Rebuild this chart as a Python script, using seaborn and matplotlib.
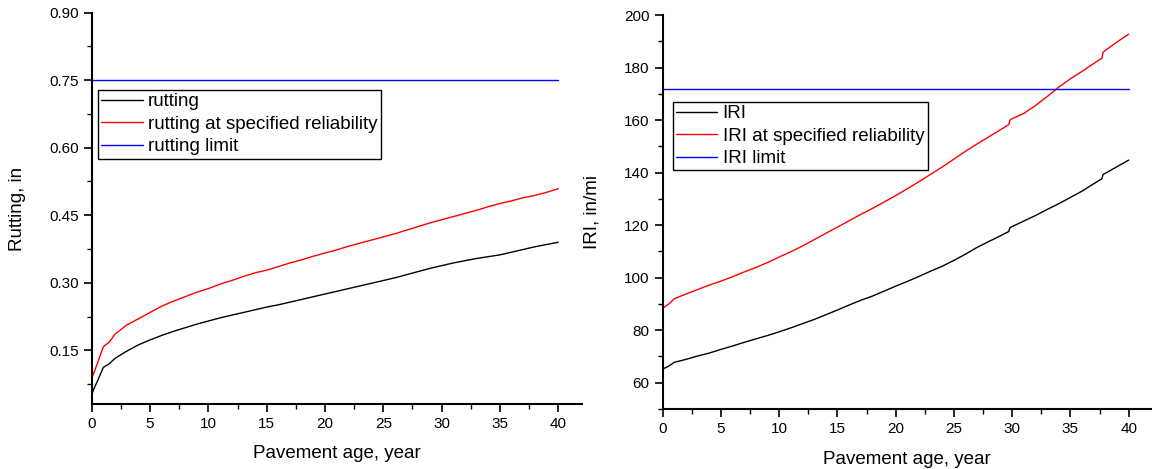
import matplotlib
matplotlib.use("Agg")
import matplotlib.pyplot as plt
from matplotlib.ticker import MultipleLocator, FormatStrFormatter
import seaborn as sns
import pandas as pd

# Rutting prediction (in) versus pavement age (years)
rut_years = [0, 0.25, 0.5, 1, 1.5, 2, 3, 4, 5, 6, 7, 8, 9, 10, 11, 12, 13, 14, 15,
             16, 17, 18, 19, 20, 21, 22, 23, 24, 25, 26, 27, 28, 29, 30, 31, 32,
             33, 34, 35, 36, 37, 38, 39, 40]
rutting = [0.052, 0.068, 0.082, 0.112, 0.120, 0.132, 0.148, 0.162, 0.173, 0.183,
           0.192, 0.200, 0.208, 0.215, 0.222, 0.228, 0.234, 0.240, 0.246, 0.251,
           0.257, 0.263, 0.269, 0.275, 0.281, 0.287, 0.293, 0.299, 0.305, 0.311,
           0.318, 0.325, 0.332, 0.338, 0.344, 0.349, 0.354, 0.358, 0.362, 0.368,
           0.374, 0.380, 0.385, 0.390]
rutting_reliab = [0.088, 0.104, 0.122, 0.158, 0.168, 0.186, 0.206, 0.220, 0.234,
                  0.248, 0.259, 0.269, 0.279, 0.287, 0.297, 0.305, 0.314, 0.322,
                  0.328, 0.336, 0.344, 0.351, 0.359, 0.366, 0.373, 0.381, 0.388,
                  0.395, 0.402, 0.409, 0.417, 0.425, 0.433, 0.440, 0.447, 0.454,
                  0.461, 0.469, 0.476, 0.482, 0.489, 0.494, 0.501, 0.509]
limit_years = [0, 40]
rutting_limit = [0.75, 0.75]

# IRI prediction (in/mi) versus pavement age (years)
iri_years = [0, 0.5, 1, 2, 3, 4, 5, 6, 7, 8, 9, 10, 11, 12, 13, 14, 15, 16, 17, 18,
             19, 20, 21, 22, 23, 24, 25, 26, 27, 28, 29, 29.7, 29.8, 30, 31, 32,
             33, 34, 35, 36, 37, 37.7, 37.8, 38, 39, 40]
iri = [65.2, 66.3, 67.8, 68.9, 70.2, 71.3, 72.7, 74.0, 75.4, 76.7, 78.0, 79.4,
       80.9, 82.5, 84.1, 85.9, 87.7, 89.6, 91.4, 93.0, 94.9, 96.8, 98.6, 100.5,
       102.5, 104.4, 106.6, 109.0, 111.6, 113.8, 116.0, 117.6, 119.0, 119.5,
       121.6, 123.7, 126.0, 128.2, 130.6, 133.0, 135.8, 137.7, 139.3, 139.8,
       142.3, 144.8]
iri_reliab = [88.4, 89.9, 92.0, 93.8, 95.5, 97.2, 98.7, 100.4, 102.2, 103.9, 105.8,
              107.9, 109.9, 112.1, 114.5, 116.9, 119.3, 121.7, 124.1, 126.4, 128.8,
              131.3, 133.9, 136.6, 139.4, 142.2, 145.2, 148.2, 151.0, 153.7, 156.4,
              158.3, 160.0, 160.6, 162.6, 165.6, 169.0, 172.6, 175.8, 178.6, 181.6,
              183.6, 185.9, 186.6, 189.8, 192.8]
iri_limit = [172, 172]

sns.set_theme(style="ticks")
plt.rcParams["font.family"] = ["Liberation Sans", "DejaVu Sans"]
plt.rcParams.update({
    "axes.linewidth": 1.5,
    "xtick.major.width": 1.2, "ytick.major.width": 1.2,
    "xtick.minor.width": 1.0, "ytick.minor.width": 1.0,
    "xtick.major.size": 6, "ytick.major.size": 6,
    "xtick.minor.size": 3.5, "ytick.minor.size": 3.5,
    "xtick.direction": "out", "ytick.direction": "out",
    "xtick.labelsize": 11, "ytick.labelsize": 11,
    "xtick.color": "black", "ytick.color": "black",
    "axes.edgecolor": "black", "text.color": "black",
    "axes.labelcolor": "black",
})

fig = plt.figure(figsize=(11.52, 4.69), dpi=100)
W, H = 1152, 469
ax1 = fig.add_axes([91.7 / W, 1 - 404.3 / H, 489.9 / W, (404.3 - 12.7) / H])
ax2 = fig.add_axes([662.7 / W, 1 - 409 / H, 489.3 / W, (409 - 15.2) / H])

rut_df = pd.DataFrame({"age": rut_years, "rutting": rutting, "reliab": rutting_reliab})
iri_df = pd.DataFrame({"age": iri_years, "iri": iri, "reliab": iri_reliab})
lw = 1.0

sns.lineplot(data=rut_df, x="age", y="rutting", color="black", lw=lw,
             label="rutting", ax=ax1)
sns.lineplot(data=rut_df, x="age", y="reliab", color="#ff0000", lw=lw,
             label="rutting at specified reliability", ax=ax1)
sns.lineplot(x=limit_years, y=rutting_limit, color="#0000ff", lw=lw,
             label="rutting limit", ax=ax1)

sns.lineplot(data=iri_df, x="age", y="iri", color="black", lw=lw,
             label="IRI", ax=ax2)
sns.lineplot(data=iri_df, x="age", y="reliab", color="#ff0000", lw=lw,
             label="IRI at specified reliability", ax=ax2)
sns.lineplot(x=limit_years, y=iri_limit, color="#0000ff", lw=lw,
             label="IRI limit", ax=ax2)

ax1.set_xlim(0, 42)
ax1.set_ylim(0.03, 0.90)
ax1.yaxis.set_major_locator(MultipleLocator(0.15))
ax1.yaxis.set_minor_locator(MultipleLocator(0.075))
ax1.yaxis.set_major_formatter(FormatStrFormatter("%.2f"))

ax2.set_xlim(0, 42)
ax2.set_ylim(50, 200)
ax2.yaxis.set_major_locator(MultipleLocator(20))
ax2.yaxis.set_minor_locator(MultipleLocator(10))

for ax, ylab, lx, ly, leg_anchor in [
    (ax1, "Rutting, in", -0.134, -0.1027, (0.013, 0.8026)),
    (ax2, "IRI, in/mi", -0.127, -0.1055, (0.0204, 0.780)),
]:
    ax.xaxis.set_major_locator(MultipleLocator(5))
    ax.xaxis.set_minor_locator(MultipleLocator(2.5))
    sns.despine(ax=ax)
    ax.set_xlabel("Pavement age, year", fontsize=13.5)
    ax.set_ylabel(ylab, fontsize=13.5)
    ax.xaxis.set_label_coords(0.5, ly)
    ax.yaxis.set_label_coords(lx, 0.5)
    leg = ax.legend(loc="upper left", bbox_to_anchor=leg_anchor, borderaxespad=0,
                    fontsize=13.5, frameon=True, fancybox=False, shadow=False,
                    handlelength=2.2, handletextpad=0.3, labelspacing=0.29,
                    borderpad=0.17)
    frame = leg.get_frame()
    frame.set_edgecolor("black")
    frame.set_linewidth(1.0)
    frame.set_alpha(1)
    for line in leg.get_lines():
        line.set_linewidth(1.0)

fig.savefig("out.png", dpi=100)
